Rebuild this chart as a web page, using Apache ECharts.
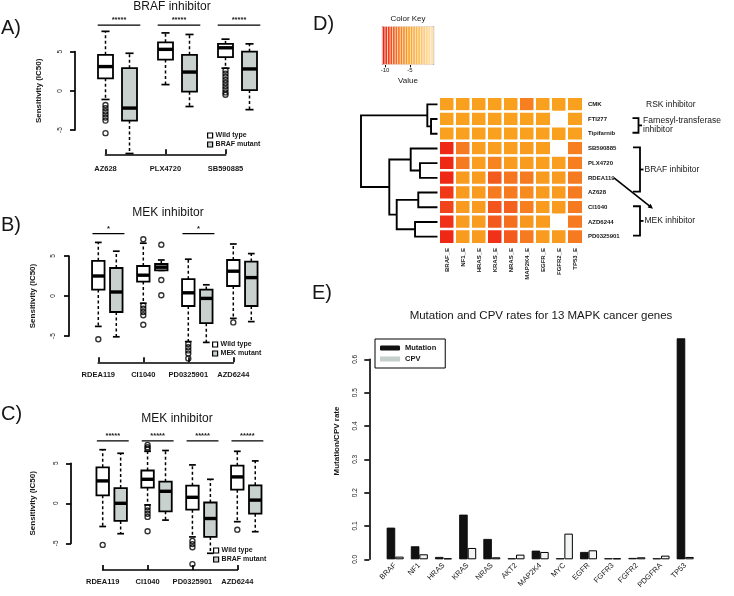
<!DOCTYPE html>
<html><head><meta charset="utf-8">
<script src="https://cdn.jsdelivr.net/npm/echarts@6/dist/echarts.min.js"></script>
<style>html,body{margin:0;padding:0;background:#fff}#c{width:734px;height:596px}</style>
</head><body><div id="c"></div>
<script>
// ---------------- DATA ----------------
// Panel A: BRAF inhibitor, stats = [min, Q1, median, Q3, max]
const aDrugs = ['AZ628', 'PLX4720', 'SB590885'];
const aWild = [[-1.1, 1.6, 3.1, 4.6, 7.6], [0.8, 4.0, 5.3, 6.2, 7.4], [2.9, 4.3, 5.5, 6.0, 6.6]];
const aMut = [[-8.0, -3.8, -2.2, 2.9, 4.8], [-2.0, -0.1, 2.4, 4.6, 7.2], [-2.4, 0.1, 2.8, 5.0, 6.0]];
const aWildOut = [[-1.8, -2.2, -2.6, -3.0, -3.4, -3.8, -5.4], [], [2.6, 2.2, 1.8, 1.4, 1.0, 0.6, 0.2, -0.2, -0.5]];
const aMutOut = [[], [], []];
const aSig = ['*****', '*****', '*****'];
const aLegend = ['Wild type', 'BRAF mutant'];

// Panel B: MEK inhibitor (MEK mutant)
const bDrugs = ['RDEA119', 'CI1040', 'PD0325901', 'AZD6244'];
const bWild = [[-3.8, 0.8, 2.5, 4.4, 6.7], [-0.9, 1.8, 2.6, 3.75, 6.6], [-5.7, -1.25, 0.4, 2.1, 4.6], [-2.8, 1.25, 3.1, 4.5, 6.5]];
const bMut = [[-5.1, -2.0, 0.5, 3.5, 5.6], [3.2, 3.2, 3.6, 4.0, 4.5], [-5.8, -3.4, -0.3, 0.8, 1.4], [-3.2, -1.25, 2.3, 4.3, 5.3]];
const bWildOut = [[-5.4], [7.1, -1.2, -1.6, -2.0, -2.4, -3.6], [-6.0, -6.4, -6.8, -7.2, -7.8], [-3.3]];
const bMutOut = [[], [6.4, 2.0, 0.1], [], []];
const bSig = ['*', '', '*', ''];
const bLegend = ['Wild type', 'MEK mutant'];

// Panel C: MEK inhibitor (BRAF mutant)
const cDrugs = ['RDEA119', 'CI1040', 'PD0325901', 'AZD6244'];
const cWild = [[-2.9, 1.0, 2.8, 4.5, 6.7], [-0.2, 1.95, 3.0, 4.1, 6.5], [-4.2, -0.8, 0.75, 2.2, 4.8], [-2.3, 1.7, 3.3, 4.7, 6.5]];
const cMut = [[-3.8, -2.2, 0.0, 1.9, 6.25], [-2.1, -1.0, 1.5, 2.7, 6.6], [-6.25, -4.2, -1.9, 0.1, 3.0], [-3.55, -1.3, 0.4, 2.25, 5.3]];
const cWildOut = [[-5.2], [7.3, 7.0, 6.8, -0.5, -0.9, -1.3, -1.7, -3.5], [-4.7, -5.1, -5.5, -7.6], [-3.3]];
const cMutOut = [[], [], [], []];
const cSig = ['*****', '*****', '*****', '*****'];
const cLegend = ['Wild type', 'BRAF mutant'];

// Panel D: heatmap
const heatRows = ['CMK', 'FTI277', 'Tipifarnib', 'SB590885', 'PLX4720', 'RDEA119', 'AZ628', 'CI1040', 'AZD6244', 'PD0325901'];
const heatCols = ['BRAF_E', 'NF1_E', 'HRAS_E', 'KRAS_E', 'NRAS_E', 'MAP2K4_E', 'EGFR_E', 'FGFR2_E', 'TP53_E'];
const heatVals = [
  [-5.4, -5.4, -5.4, -5.4, -5.4, -6.8, -5.4, -5.4, -5.4],
  [-5.4, -5.4, -5.4, -5.4, -5.4, -5.4, -5.4, null, -5.4],
  [-5.4, -5.4, -5.4, -5.4, -5.4, -5.4, -5.4, -5.4, -5.4],
  [-10.0, -7.0, -5.5, -5.5, -5.5, -5.6, -5.5, null, -6.8],
  [-10.0, -7.0, -5.5, -6.6, -5.6, -5.6, -5.5, -5.5, -6.8],
  [-10.0, -5.6, -5.6, -8.2, -7.2, -7.0, -5.6, -5.6, -7.0],
  [-9.4, -5.6, -5.6, -7.0, -7.0, -6.3, -5.6, -5.6, -7.0],
  [-9.0, -5.6, -5.6, -8.4, -8.0, -6.8, -5.6, -5.6, -7.0],
  [-9.6, -5.6, -5.6, -8.3, -7.4, -5.8, -5.6, null, -7.0],
  [-10.0, -5.6, -5.6, -9.6, -8.2, -7.0, -5.6, -5.6, -7.0]
];
// dendrogram merges: [childA, childB, height]; leaves 0..9, new nodes 10..
const dendroMerges = [[1, 2, 0.094], [0, 10, 0.142], [4, 5, 0.237], [3, 12, 0.357], [6, 7, 0.259], [8, 9, 0.301], [14, 15, 0.538], [13, 16, 0.634], [11, 17, 1.0]];
const keyValues = [-10.2, -9.7, -9.2, -8.7, -8.2, -7.7, -7.2, -6.7, -6.2, -5.7, -5.2, -4.7, -4.2, -3.7, -3.2, -2.7, -2.2, -1.7, -1.2, -0.7];
const keyTicks = [-10, -5];
const groupLabels = ['RSK inhibitor', 'Farnesyl-transferase\ninhibitor', 'BRAF inhibitor', 'MEK inhibitor'];

// Panel E: bar chart
const genes = ['BRAF', 'NF1', 'HRAS', 'KRAS', 'NRAS', 'AKT2', 'MAP2K4', 'MYC', 'EGFR', 'FGFR3', 'FGFR2', 'PDGFRA', 'TP53'];
const mutationRate = [0.095, 0.039, 0.007, 0.134, 0.061, 0.003, 0.026, 0.003, 0.022, 0.003, 0.004, 0.003, 0.663];
const cpvRate = [0.008, 0.015, 0.003, 0.034, 0.006, 0.014, 0.022, 0.077, 0.027, 0.003, 0.006, 0.011, 0.007];
const eTicks = [0, 0.1, 0.2, 0.3, 0.4, 0.5, 0.6];

// ---------------- STYLE / LAYOUT ----------------
const FONT = '"Liberation Sans", Arial, sans-serif';
const TXT = '#161616';
const MUTFILL = '#c8d1cd';
const panels = [
  {drugs: aDrugs, wild: aWild, mut: aMut, wOut: aWildOut, mOut: aMutOut, sig: aSig, leg: aLegend,
   grid: {left: 105.5, top: 51.7, width: 120, height: 78.3}, xOff: 24.3, yOff: 30.5, boxW: 15, sigY: 8.4,
   xLblM: 11, yLblM: 11, nameGap: 32, legPos: {left: 207, top: 132}},
  {drugs: bDrugs, wild: bWild, mut: bMut, wOut: bWildOut, mOut: bMutOut, sig: bSig, leg: bLegend,
   grid: {left: 98.3, top: 256, width: 135, height: 80}, xOff: 26.3, yOff: 29.3, boxW: 12.5, sigY: 7.8,
   xLblM: 9, yLblM: 12, nameGap: 32, legPos: {left: 212, top: 341}},
  {drugs: cDrugs, wild: cWild, mut: cMut, wOut: cWildOut, mOut: cMutOut, sig: cSig, leg: cLegend,
   grid: {left: 102.7, top: 463.3, width: 134.6, height: 80}, xOff: 26.7, yOff: 31.7, boxW: 12.5, sigY: 7.8,
   xLblM: 8, yLblM: 11, nameGap: 34, legPos: {left: 213, top: 547}}
];

const grids = [], xAxes = [], yAxes = [], series = [], legends = [];

function boxRender(boxW, fill) {
  return function (params, api) {
    const x = api.value(0);
    const p = v => api.coord([x, v]);
    const cx = p(api.value(3))[0];
    const yMin = p(api.value(1))[1], yQ1 = p(api.value(2))[1], yMed = p(api.value(3))[1],
          yQ3 = p(api.value(4))[1], yMax = p(api.value(5))[1];
    const hw = boxW / 2, cap = boxW * 0.27;
    const dash = {stroke: '#000', lineWidth: 1.5, lineDash: [3, 2.5]};
    const solid = {stroke: '#000', lineWidth: 1.7};
    return {type: 'group', children: [
      {type: 'line', shape: {x1: cx, y1: yQ3, x2: cx, y2: yMax}, style: dash},
      {type: 'line', shape: {x1: cx, y1: yQ1, x2: cx, y2: yMin}, style: dash},
      {type: 'line', shape: {x1: cx - cap, y1: yMax, x2: cx + cap, y2: yMax}, style: solid},
      {type: 'line', shape: {x1: cx - cap, y1: yMin, x2: cx + cap, y2: yMin}, style: solid},
      {type: 'rect', shape: {x: cx - hw, y: yQ3, width: boxW, height: yQ1 - yQ3}, style: {fill: fill, stroke: '#000', lineWidth: 1.8}},
      {type: 'line', shape: {x1: cx - hw, y1: yMed, x2: cx + hw, y2: yMed}, style: {stroke: '#000', lineWidth: 3.4}}
    ]};
  };
}

panels.forEach((P, gi) => {
  grids.push(P.grid);
  const n = P.drugs.length;
  xAxes.push({type: 'value', gridIndex: gi, min: 0, max: (n - 1) * 5, interval: 5, offset: P.xOff, position: 'bottom',
    axisLine: {show: true, onZero: false, lineStyle: {color: '#000', width: 1.7}},
    axisTick: {show: true, inside: true, length: 5, lineStyle: {color: '#000', width: 1.7}},
    axisLabel: {formatter: v => P.drugs[Math.round(v / 5)] || '', fontSize: 7.5, color: TXT, fontFamily: FONT, fontWeight: 'bold', margin: P.xLblM, showMinLabel: true, showMaxLabel: true},
    splitLine: {show: false}});
  yAxes.push({type: 'value', gridIndex: gi, min: -5, max: 5, interval: 5, offset: P.yOff, position: 'left',
    axisLine: {show: true, onZero: false, lineStyle: {color: '#000', width: 1.7}},
    axisTick: {show: true, length: 5, lineStyle: {color: '#000', width: 1.7}},
    axisLabel: {rotate: 90, fontSize: 6.5, color: TXT, fontFamily: FONT, margin: P.yLblM},
    splitLine: {show: false},
    name: 'Sensitivity (IC50)', nameLocation: 'middle', nameGap: P.nameGap,
    nameTextStyle: {fontSize: 8, color: TXT, fontFamily: FONT, fontWeight: 'bold'}});
  const wildName = P.leg[0], mutName = P.leg[1];
  series.push({type: 'custom', name: wildName, xAxisIndex: gi, yAxisIndex: gi, clip: false,
    itemStyle: {color: '#fff', borderColor: '#000'},
    encode: {x: 0, y: [1, 2, 3, 4, 5]},
    data: P.wild.map((s, i) => [i * 5].concat(s)),
    renderItem: boxRender(P.boxW, '#fff'), z: 3});
  series.push({type: 'custom', name: mutName, xAxisIndex: gi, yAxisIndex: gi, clip: false,
    itemStyle: {color: MUTFILL, borderColor: '#000'},
    encode: {x: 0, y: [1, 2, 3, 4, 5]},
    data: P.mut.map((s, i) => [i * 5 + 2].concat(s)),
    renderItem: boxRender(P.boxW, MUTFILL), z: 3});
  const outData = [];
  P.wOut.forEach((arr, i) => arr.forEach(v => outData.push([i * 5, v])));
  P.mOut.forEach((arr, i) => arr.forEach(v => outData.push([i * 5 + 2, v])));
  series.push({type: 'scatter', name: 'outliers' + gi, xAxisIndex: gi, yAxisIndex: gi, clip: false,
    symbol: 'circle', symbolSize: 5, data: outData, silent: true,
    itemStyle: {color: 'rgba(0,0,0,0)', borderColor: '#000', borderWidth: 1.4}, z: 4});
  const sigData = [];
  P.sig.forEach((s, i) => { if (s) sigData.push([i * 5, P.sigY]); });
  series.push({type: 'custom', name: 'sig' + gi, xAxisIndex: gi, yAxisIndex: gi, clip: false, silent: true,
    encode: {x: 0, y: 1}, data: sigData,
    renderItem: (params, api) => {
      const x = api.value(0), y = api.value(1);
      const a = api.coord([x - 0.65, y]), b = api.coord([x + 2 + 0.9, y]);
      const lbl = P.sig[Math.round(x / 5)];
      return {type: 'group', children: [
        {type: 'line', shape: {x1: a[0], y1: a[1], x2: b[0], y2: b[1]}, style: {stroke: '#000', lineWidth: 1.3}},
        {type: 'text', x: (a[0] + b[0]) / 2, y: a[1] - 1, style: {text: lbl, align: 'center', verticalAlign: 'bottom', fontSize: 7.5, fontWeight: 'bold', fill: TXT, fontFamily: FONT}}
      ]};
    }});
  legends.push(Object.assign({orient: 'vertical', itemWidth: 5, itemHeight: 5, itemGap: 2, padding: 0,
    selectedMode: false,
    textStyle: {fontSize: 7, color: TXT, fontFamily: FONT, fontWeight: 'bold', padding: [0, 0, 0, -2]},
    data: [
      {name: wildName, icon: 'rect', itemStyle: {color: '#fff', borderColor: '#000', borderWidth: 1.2}},
      {name: mutName, icon: 'rect', itemStyle: {color: MUTFILL, borderColor: '#000', borderWidth: 1.2}}
    ]}, P.legPos));
});

// ---- Panel D ----
// grid 3: dendrogram
grids.push({left: 361, top: 97, width: 77.3, height: 147});
xAxes.push({type: 'value', gridIndex: 3, min: 0, max: 1, inverse: true, show: false});
yAxes.push({type: 'value', gridIndex: 3, min: -0.5, max: heatRows.length - 0.5, inverse: true, show: false});
const nodeY = heatRows.map((_, i) => i), nodeH = heatRows.map(() => 0);
const dendroLinks = dendroMerges.map(([a, b, h]) => {
  const item = [nodeH[a], nodeY[a], h, nodeY[b], nodeH[b]];
  nodeY.push((nodeY[a] + nodeY[b]) / 2); nodeH.push(h);
  return item;
});
series.push({type: 'custom', name: 'dendro', xAxisIndex: 3, yAxisIndex: 3, silent: true,
  encode: {x: [0, 2, 4], y: [1, 3]}, data: dendroLinks,
  renderItem: (params, api) => {
    const v = i => api.value(i);
    const pts = [[v(0), v(1)], [v(2), v(1)], [v(2), v(3)], [v(4), v(3)]].map(p => api.coord(p));
    return {type: 'polyline', shape: {points: pts}, style: {stroke: '#000', lineWidth: 1.9, fill: null}};
  }});

// grid 4: heatmap
grids.push({left: 439, top: 97, width: 144, height: 147});
xAxes.push({type: 'category', gridIndex: 4, data: heatCols, position: 'bottom',
  axisLine: {show: false}, axisTick: {show: false}, splitLine: {show: false},
  axisLabel: {rotate: 90, fontSize: 6, color: TXT, fontFamily: FONT, fontWeight: 'bold', margin: 4, interval: 0}});
yAxes.push({type: 'category', gridIndex: 4, data: heatRows, inverse: true, position: 'right',
  axisLine: {show: false}, axisTick: {show: false}, splitLine: {show: false},
  axisLabel: {fontSize: 6, color: TXT, fontFamily: FONT, fontWeight: 'bold', margin: 5, interval: 0}});
const heatData = [];
heatVals.forEach((row, r) => row.forEach((v, c) => heatData.push([c, r, v === null ? '-' : v])));
const heatSeriesIndex = series.length;
series.push({type: 'heatmap', name: 'heat', xAxisIndex: 4, yAxisIndex: 4, data: heatData, silent: true,
  itemStyle: {borderColor: '#fff', borderWidth: 2.5}});

// grid 5: colour key
grids.push({left: 382.7, top: 26.7, width: 50.6, height: 37.6, show: true, borderColor: '#000', borderWidth: 1.5, backgroundColor: 'transparent'});
xAxes.push({type: 'category', gridIndex: 5, data: keyValues.map(String), show: false});
xAxes.push({type: 'value', gridIndex: 5, min: -10.46, max: -0.34, position: 'bottom',
  axisLine: {show: false, onZero: false}, splitLine: {show: false},
  axisTick: {show: true, customValues: keyTicks, length: 3, lineStyle: {color: '#000', width: 1}},
  axisLabel: {customValues: keyTicks, fontSize: 6, color: TXT, fontFamily: FONT, margin: 3},
  name: 'Value', nameLocation: 'middle', nameGap: 12, nameTextStyle: {fontSize: 8, color: TXT, fontFamily: FONT}});
yAxes.push({type: 'category', gridIndex: 5, data: ['k'], show: false});
const keySeriesIndex = series.length;
series.push({type: 'heatmap', name: 'key', xAxisIndex: 5, yAxisIndex: 5, silent: true,
  data: keyValues.map((v, i) => [i, 0, v]),
  itemStyle: {borderColor: 'rgba(255,235,225,0.9)', borderWidth: 0.9}});

// ---- Panel E ----
grids.push({left: 383.1, top: 359.3, width: 314.2, height: 200});
xAxes.push({type: 'category', gridIndex: 6, data: genes,
  axisLine: {show: false}, axisTick: {show: false}, splitLine: {show: false},
  axisLabel: {rotate: 45, fontSize: 7.5, color: TXT, fontFamily: FONT, margin: 5, interval: 0}});
yAxes.push({type: 'value', gridIndex: 6, min: eTicks[0], max: eTicks[eTicks.length - 1], interval: 0.1, offset: 13.8, position: 'left',
  axisLine: {show: true, onZero: false, lineStyle: {color: '#000', width: 1.6}},
  axisTick: {show: true, length: 5, lineStyle: {color: '#000', width: 1.6}},
  axisLabel: {rotate: 90, fontSize: 6.5, color: TXT, fontFamily: FONT, margin: 11, formatter: v => v.toFixed(1)},
  splitLine: {show: false}});
series.push({type: 'bar', name: 'Mutation', xAxisIndex: 7, yAxisIndex: 6, data: mutationRate, clip: false,
  barWidth: 8.5, barGap: '0%', silent: true,
  itemStyle: {color: '#111', borderColor: '#000', borderWidth: 0.8}});
series.push({type: 'bar', name: 'CPV', xAxisIndex: 7, yAxisIndex: 6, data: cpvRate, clip: false,
  barWidth: 8.5, barGap: '0%', silent: true,
  itemStyle: {color: '#f3f5f4', borderColor: '#000', borderWidth: 1}});
legends.push({left: 375, top: 339, orient: 'vertical', borderColor: '#000', borderWidth: 1,
  padding: [5, 9, 5, 5], itemGap: 3, itemWidth: 20, itemHeight: 5, selectedMode: false,
  textStyle: {fontSize: 7.5, color: TXT, fontFamily: FONT, fontWeight: 'bold'},
  data: [{name: 'Mutation', icon: 'roundRect', itemStyle: {color: '#111', borderWidth: 0}},
         {name: 'CPV', icon: 'rect', itemStyle: {color: '#c5cfcb', borderWidth: 0}}]});

const titleStyle = {fontSize: 12, fontWeight: 'normal', color: TXT, fontFamily: FONT};
const option = {
  animation: false,
  backgroundColor: '#fff',
  title: [
    {text: 'BRAF inhibitor', left: 172, top: 1, textAlign: 'center', textStyle: titleStyle, padding: 0},
    {text: 'MEK inhibitor', left: 168, top: 207, textAlign: 'center', textStyle: titleStyle, padding: 0},
    {text: 'MEK inhibitor', left: 177, top: 413, textAlign: 'center', textStyle: titleStyle, padding: 0},
    {text: 'Mutation and CPV rates for 13 MAPK cancer genes', left: 541, top: 310, textAlign: 'center', padding: 0,
     textStyle: {fontSize: 11.5, fontWeight: 'normal', color: TXT, fontFamily: FONT}}
  ],
  visualMap: {type: 'continuous', show: false, min: -10.5, max: -0.3, dimension: 2,
    seriesIndex: [heatSeriesIndex, keySeriesIndex],
    inRange: {color: ['#ee1a14', '#f24a1c', '#f6781f', '#f9a01e', '#fbb949', '#fcd27f', '#feebbc']}},
  legend: legends,
  grid: grids,
  xAxis: xAxes,
  yAxis: yAxes,
  series: series
};

const chart = echarts.init(document.getElementById('c'), null, {width: 734, height: 596});
chart.setOption(option);

// annotations (text, brackets) positioned from the heatmap's own scale
const rowY = r => chart.convertToPixel({gridIndex: 4}, [0, r])[1];
const g = [];
const letter = (t, x, y) => g.push({type: 'text', x: x, y: y, style: {text: t, fontSize: 20, fill: TXT, fontFamily: FONT}});
letter('A)', 1, 18); letter('B)', 1, 215); letter('C)', 1, 404); letter('D)', 313, 14); letter('E)', 312, 283);
g.push({type: 'text', x: 408, y: 19, style: {text: 'Color Key', fontSize: 8, fill: TXT, fontFamily: FONT, align: 'center', verticalAlign: 'middle'}});
g.push({type: 'text', x: 337, y: 441, rotation: Math.PI / 2, style: {text: 'Mutation/CPV rate', fontSize: 8, fill: TXT, fontFamily: FONT, fontWeight: 'bold', align: 'center', verticalAlign: 'middle'}});
function bracket(r1, r2, xv, armL, tickR, label) {
  const y1 = rowY(r1) - 1, y2 = rowY(r2) - 1, ym = (y1 + y2) / 2;
  g.push({type: 'polyline', shape: {points: [[xv - armL, y1], [xv, y1], [xv, y2], [xv - armL, y2]]}, style: {stroke: '#000', lineWidth: 1.8, fill: null}});
  g.push({type: 'line', shape: {x1: xv, y1: ym, x2: xv + tickR, y2: ym}, style: {stroke: '#000', lineWidth: 1.8}});
  g.push({type: 'text', x: xv + tickR + 1, y: ym, style: {text: label, fontSize: 8.5, lineHeight: 8.5, fill: TXT, fontFamily: FONT, verticalAlign: 'middle'}});
}
g.push({type: 'text', x: 646, y: rowY(0), style: {text: groupLabels[0], fontSize: 8.5, fill: TXT, fontFamily: FONT, verticalAlign: 'middle'}});
bracket(1, 2, 638.5, 6, 3.5, groupLabels[1]);
bracket(3, 6, 640, 7, 3.5, groupLabels[2]);
bracket(7, 9, 640, 7, 3.5, groupLabels[3]);
// arrow from RDEA119 to MEK inhibitor group
const ax1 = 614, ay1 = rowY(5), ax2 = 653, ay2 = rowY(7) + 1.5;
const ang = Math.atan2(ay2 - ay1, ax2 - ax1);
g.push({type: 'line', shape: {x1: ax1, y1: ay1, x2: ax2 - 3 * Math.cos(ang), y2: ay2 - 3 * Math.sin(ang)}, style: {stroke: '#000', lineWidth: 1.6}});
const ah = 5.5, aw = 0.45;
g.push({type: 'polygon', shape: {points: [[ax2, ay2],
  [ax2 - ah * Math.cos(ang - aw), ay2 - ah * Math.sin(ang - aw)],
  [ax2 - ah * Math.cos(ang + aw), ay2 - ah * Math.sin(ang + aw)]]}, style: {fill: '#000'}});
chart.setOption({graphic: g});
</script>
</body></html>
